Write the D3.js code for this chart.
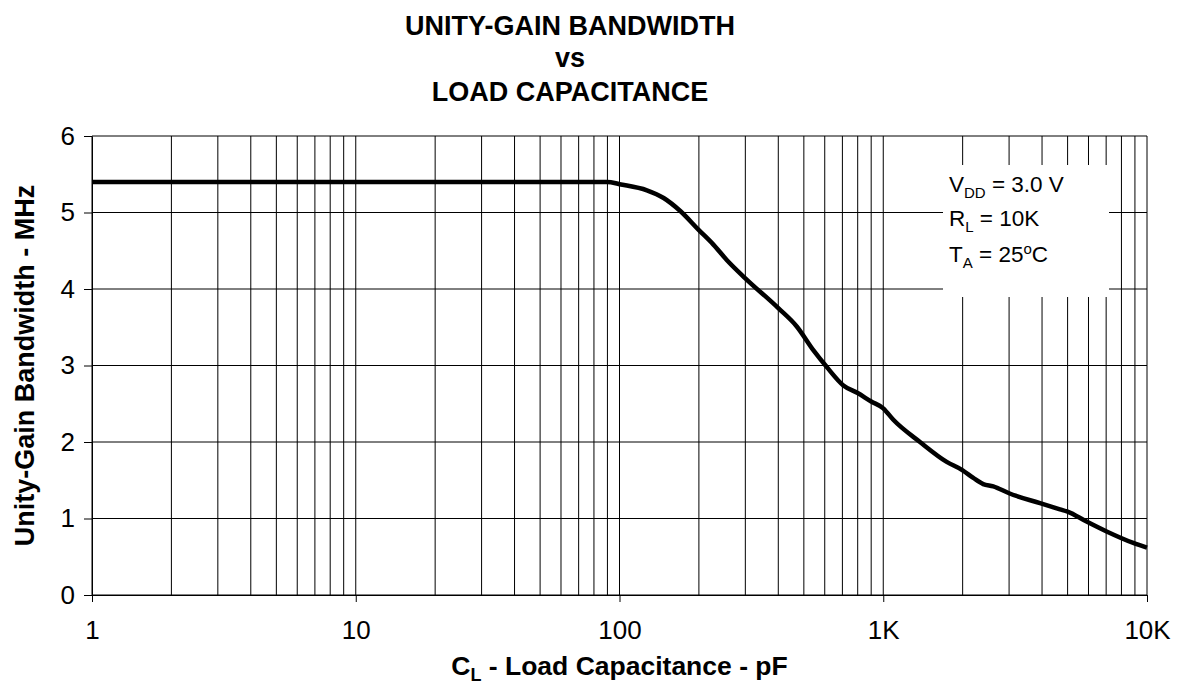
<!DOCTYPE html>
<html>
<head>
<meta charset="utf-8">
<script src="https://cdn.jsdelivr.net/npm/d3@7"></script>
<style>
  body { margin: 0; background: #fff; }
  text { font-family: "Liberation Sans", Arial, sans-serif; fill: #000; }
</style>
</head>
<body>
<div id="chart"></div>
<script>
// values
const capacitance = [1, 10, 50, 90, 100, 127, 147, 170, 200, 227, 255, 300, 400, 470, 543, 611, 706, 800,
  900, 1000, 1092, 1378, 1740, 2000, 2195, 2393, 2613, 3000, 3930, 4677, 5000, 5900, 7030, 8870, 10000];
const bandwidth = [5.4, 5.4, 5.4, 5.4, 5.37, 5.29, 5.19, 5.02, 4.77, 4.58, 4.38, 4.14, 3.75, 3.51, 3.2, 2.98, 2.74, 2.64,
  2.53, 2.44, 2.29, 2.0, 1.74, 1.63, 1.53, 1.45, 1.42, 1.33, 1.2, 1.12, 1.09, 0.96, 0.83, 0.68, 0.62];
const xTicks = [1, 10, 100, 1000, 10000];
const xTickLabels = ["1", "10", "100", "1K", "10K"];
const yTicks = [0, 1, 2, 3, 4, 5, 6];
const titleLines = ["UNITY-GAIN BANDWIDTH", "vs", "LOAD CAPACITANCE"];

const width = 1179, height = 685;
const margin = { top: 136, right: 32, bottom: 90, left: 92 };

const svg = d3.select("#chart").append("svg")
  .attr("width", width)
  .attr("height", height);

const x = d3.scaleLog().domain([1, 10000]).range([margin.left, width - margin.right]);
const y = d3.scaleLinear().domain([0, 6]).range([height - margin.bottom, margin.top]);

// minor grid: every 1..9 within each decade
const gridX = [];
for (let d = 1; d < 10000; d *= 10) {
  for (let k = 1; k < 10; k++) gridX.push(d * k);
}
gridX.push(10000);

const grid = svg.append("g").attr("stroke", "#000").attr("stroke-width", 1);
grid.selectAll("line.v").data(gridX).enter().append("line")
  .attr("class", "v")
  .attr("x1", d => x(d)).attr("x2", d => x(d))
  .attr("y1", y(0)).attr("y2", y(6));
grid.selectAll("line.h").data(yTicks).enter().append("line")
  .attr("class", "h")
  .attr("x1", x(1)).attr("x2", x(10000))
  .attr("y1", d => y(d)).attr("y2", d => y(d));

// white box behind the conditions text
svg.append("rect")
  .attr("x", 943).attr("y", 165)
  .attr("width", 166).attr("height", 132)
  .attr("fill", "#fff");

// axes
const xAxis = d3.axisBottom(x).tickValues(xTicks)
  .tickFormat((d, i) => xTickLabels[i]).tickSize(7).tickSizeOuter(0).tickPadding(19);
const gx = svg.append("g")
  .attr("transform", "translate(0," + y(0) + ")")
  .call(xAxis);
gx.selectAll("text").style("font-size", "26px").attr("fill", "#000");

const yAxis = d3.axisLeft(y).tickValues(yTicks).tickFormat(d3.format("d"))
  .tickSize(8).tickSizeOuter(0).tickPadding(9);
const gy = svg.append("g")
  .attr("transform", "translate(" + x(1) + ",0)")
  .call(yAxis);
gy.selectAll("text").style("font-size", "26px").attr("fill", "#000");
svg.selectAll(".domain, .tick line").attr("stroke", "#000");

// curve
const line = d3.line()
  .x((d, i) => x(capacitance[i]))
  .y(d => y(d))
  .curve(d3.curveMonotoneX);
svg.append("path")
  .datum(bandwidth)
  .attr("fill", "none")
  .attr("stroke", "#000")
  .attr("stroke-width", 4.5)
  .attr("stroke-linejoin", "round")
  .attr("d", line);

// title
svg.append("g").selectAll("text").data(titleLines).enter().append("text")
  .attr("x", 570)
  .attr("y", (d, i) => [35, 67, 101][i])
  .attr("text-anchor", "middle")
  .style("font-size", "27px")
  .style("font-weight", "bold")
  .text(d => d);

// axis titles
const xl = svg.append("text")
  .attr("x", (x(1) + x(10000)) / 2)
  .attr("y", 675)
  .attr("text-anchor", "middle")
  .style("font-size", "26.5px")
  .style("font-weight", "bold");
xl.append("tspan").text("C");
xl.append("tspan").attr("dy", 6).style("font-size", "18px").text("L");
xl.append("tspan").attr("dy", -6).text(" - Load Capacitance - pF");

svg.append("text")
  .attr("transform", "translate(34," + (y(0) + y(6)) / 2 + ") rotate(-90)")
  .attr("text-anchor", "middle")
  .style("font-size", "27px")
  .style("font-weight", "bold")
  .text("Unity-Gain Bandwidth - MHz");

// test conditions
const cond = svg.append("g").style("font-size", "22.5px");
const c1 = cond.append("text").attr("x", 949).attr("y", 192);
c1.append("tspan").text("V");
c1.append("tspan").attr("dy", 6).style("font-size", "15px").text("DD");
c1.append("tspan").attr("dy", -6).text(" = 3.0 V");
const c2 = cond.append("text").attr("x", 949).attr("y", 226);
c2.append("tspan").text("R");
c2.append("tspan").attr("dy", 6).style("font-size", "15px").text("L");
c2.append("tspan").attr("dy", -6).text(" = 10K");
const c3 = cond.append("text").attr("x", 949).attr("y", 262);
c3.append("tspan").text("T");
c3.append("tspan").attr("dy", 6).style("font-size", "15px").text("A");
c3.append("tspan").attr("dy", -6).text(" = 25");
c3.append("tspan").attr("dy", -8).style("font-size", "15px").text("o");
c3.append("tspan").attr("dy", 8).text("C");
</script>
</body>
</html>
